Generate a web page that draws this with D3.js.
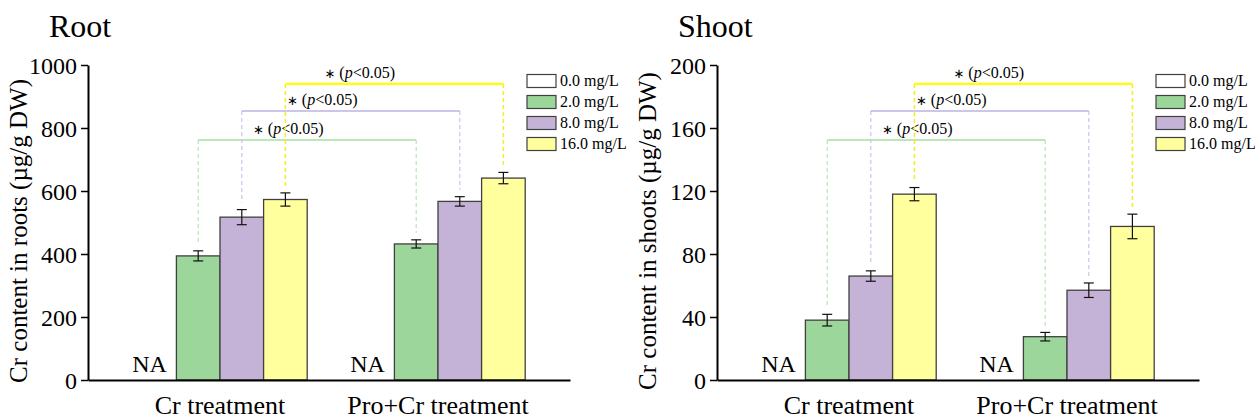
<!DOCTYPE html>
<html>
<head>
<meta charset="utf-8">
<script src="https://cdn.jsdelivr.net/npm/d3@7"></script>
<style>
  body { margin: 0; background: #fff; }
  text { font-family: "Liberation Serif", "Times New Roman", serif; }
</style>
</head>
<body>
<div id="chart"></div>
<script>
// data
const groups = ["Cr treatment", "Pro+Cr treatment"];
const doses = ["0.0 mg/L", "2.0 mg/L", "8.0 mg/L", "16.0 mg/L"];

const rootMeans = [[null, 394, 517, 573], [null, 432, 567, 641]];
const rootErrors = [[0, 16, 24, 21], [0, 13, 15, 18]];
const rootTicks = [0, 200, 400, 600, 800, 1000];
const rootBrackets = [762, 854, 940];

const shootMeans = [[null, 38, 66, 118], [null, 27.5, 57, 97.5]];
const shootErrors = [[0, 3.7, 3.3, 4.2], [0, 2.7, 4.6, 7.8]];
const shootTicks = [0, 40, 80, 120, 160, 200];
const shootBrackets = [152.4, 170.8, 188];

window.onload = start;

function start() {
    var W = 1255, H = 419;
    var fills = ["#ffffff", "#9cd69b", "#c4b3d7", "#ffff9e"];
    var brackCol = [null, "#a3e0a0", "#bdb3e3", "#ffff00"];
    var dashCol = [null, "#b5e6b3", "#cbc3ea", "#f2ef20"];
    var labelFrac = [null, 0.413, 0.369, 0.341];

    var svg = d3.select("#chart").append("svg")
        .attr("width", W).attr("height", H);

    drawPanel(0, "Root", "Cr content in roots (\u00b5g/g DW)", rootMeans, rootErrors, rootTicks, rootBrackets);
    drawPanel(629, "Shoot", "Cr content in shoots (\u00b5g/g DW)", shootMeans, shootErrors, shootTicks, shootBrackets);

    function drawPanel(dx, title, ylab, means, errs, ticks, brackets) {
        var g = svg.append("g").attr("transform", "translate(" + dx + ",0)");
        var axisX = 88;

        var y = d3.scaleLinear().domain([0, d3.max(ticks)]).range([380, 65]);
        var x0 = d3.scaleBand().domain(groups).range([axisX, 570])
            .paddingInner(0.2).paddingOuter(0.2055).align(0.5);
        var x1 = d3.scaleBand().domain(doses).range([0, x0.bandwidth()]);
        var bw = x1.bandwidth();

        function cx(i, j) { return x0(groups[i]) + x1(doses[j]) + bw / 2; }

        // title
        g.append("text").attr("x", 49).attr("y", 37)
            .style("font-size", "32px").text(title);

        // y label
        g.append("text")
            .attr("transform", "translate(27,231) rotate(-90)")
            .style("text-anchor", "middle")
            .style("font-size", "25px")
            .text(ylab);

        // bars
        groups.forEach(function (grp, i) {
            doses.forEach(function (d, j) {
                var v = means[i][j];
                if (v == null) {
                    g.append("text")
                        .attr("x", x0(grp) + x1(d) + bw / 2 - 5)
                        .attr("y", 372)
                        .style("text-anchor", "middle")
                        .style("font-size", "24px")
                        .text("NA");
                    return;
                }
                g.append("rect")
                    .attr("x", x0(grp) + x1(d))
                    .attr("y", y(v))
                    .attr("width", bw)
                    .attr("height", y(0) - y(v))
                    .attr("fill", fills[j])
                    .attr("stroke", "#404040")
                    .attr("stroke-width", 1.3);
                // error bar
                var e = errs[i][j], c = cx(i, j);
                g.append("line").attr("x1", c).attr("x2", c)
                    .attr("y1", y(v - e)).attr("y2", y(v + e))
                    .attr("stroke", "#111").attr("stroke-width", 1.2);
                [v - e, v + e].forEach(function (t) {
                    g.append("line").attr("x1", c - 5).attr("x2", c + 5)
                        .attr("y1", y(t)).attr("y2", y(t))
                        .attr("stroke", "#111").attr("stroke-width", 1.2);
                });
            });
        });

        // significance brackets
        for (var j = 1; j < doses.length; j++) {
            var xa = cx(0, j), xb = cx(1, j), yb = y(brackets[j - 1]);
            var lab = g.append("text")
                .attr("x", xa + labelFrac[j] * (xb - xa))
                .attr("y", yb - 6)
                .style("text-anchor", "middle")
                .style("font-size", "16px");
            lab.append("tspan").style("font-family", "DejaVu Sans").style("font-size", "13px").text("\u2217");
            lab.append("tspan").text(" (");
            lab.append("tspan").style("font-style", "italic").text("p");
            lab.append("tspan").text("<0.05)");

            [0, 1].forEach(function (i) {
                var xx = i == 0 ? xa : xb;
                g.append("line")
                    .attr("x1", xx).attr("x2", xx)
                    .attr("y1", yb).attr("y2", y(means[i][j] + errs[i][j]) - 7)
                    .attr("stroke", dashCol[j])
                    .attr("stroke-width", j == 3 ? 1.5 : 1.2)
                    .attr("stroke-dasharray", "4,3");
            });
            g.append("line")
                .attr("x1", xa).attr("x2", xb)
                .attr("y1", yb).attr("y2", yb)
                .attr("stroke", brackCol[j])
                .attr("stroke-width", j == 3 ? 2.2 : 1.6);
        }

        // axes
        var yAxis = g.append("g")
            .attr("transform", "translate(" + axisX + ",0)")
            .call(d3.axisLeft(y).tickValues(ticks).tickFormat(d3.format("d"))
                .tickSize(7).tickPadding(4).tickSizeOuter(0));
        yAxis.selectAll("text").style("font-size", "24px").attr("fill", "#000")
            .attr("dy", "0.34em");
        yAxis.selectAll("line").attr("stroke-width", 1.5);
        yAxis.select(".domain").attr("stroke-width", 2);

        var xAxis = g.append("g")
            .attr("transform", "translate(0,380)")
            .call(d3.axisBottom(x0).tickSize(0).tickPadding(16).tickSizeOuter(0));
        xAxis.selectAll("text").style("font-size", "26px").attr("fill", "#000");
        xAxis.select(".domain").attr("stroke-width", 2);

        // legend
        doses.forEach(function (d, j) {
            var cy = 81 + j * 21;
            g.append("rect")
                .attr("x", 527).attr("y", cy - 6.5)
                .attr("width", 29).attr("height", 13)
                .attr("fill", fills[j])
                .attr("stroke", "#404040").attr("stroke-width", 1.2);
            g.append("text")
                .attr("x", 560).attr("y", cy + 5)
                .style("font-size", "16px")
                .text(d);
        });
    }
}
</script>
</body>
</html>
